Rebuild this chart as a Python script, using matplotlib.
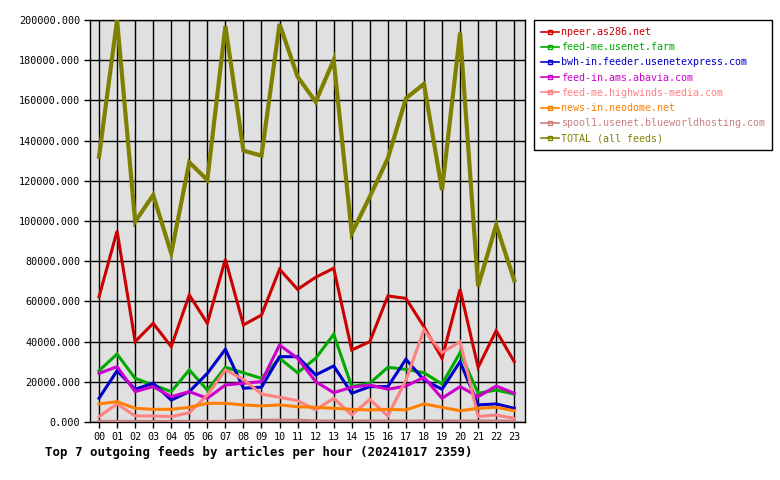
import matplotlib
matplotlib.use("Agg")
import matplotlib.pyplot as plt
from matplotlib.lines import Line2D

hours = ["%02d" % h for h in range(24)]

npeer = [62300, 95000, 40000, 49100, 37500, 63200, 49100, 81000, 48300, 53200,
         76000, 66000, 72000, 76500, 35800, 40000, 62700, 61500, 47400, 31700,
         66000, 27200, 45400, 30000]
usenet_farm = [25500, 33800, 21700, 18400, 15100, 25900, 15900, 27200, 24500, 21700,
               31700, 24500, 31700, 43600, 17600, 19300, 27200, 26200, 24500, 18900,
               34500, 14300, 15900, 13900]
usenetexpress = [11800, 25500, 16300, 19300, 10900, 15100, 24200, 36200, 16800, 17300,
                 32500, 32500, 23400, 27900, 14300, 17600, 17600, 31200, 20900, 16300,
                 30000, 8500, 9000, 6800]
abavia = [24200, 27500, 15100, 17600, 12600, 15100, 11800, 18400, 19300, 20100,
          38300, 31700, 20100, 14600, 17300, 18400, 16300, 17900, 22200, 11800,
          17600, 12600, 17900, 14300]
highwinds = [2700, 9000, 3000, 3000, 2700, 4600, 13400, 25900, 21200, 13900,
             12300, 10600, 6000, 11800, 3500, 11300, 3000, 20900, 45800, 34500,
             40000, 2700, 3500, 1800]
neodome = [9000, 10100, 6800, 6300, 6300, 7300, 9300, 9300, 8500, 8000,
           8500, 7600, 7300, 6800, 6300, 6000, 6300, 6000, 9000, 7300,
           5600, 6800, 7300, 5600]
blueworld = [300, 300, 300, 300, 300, 300, 300, 300, 900, 900,
             900, 900, 500, 500, 500, 500, 500, 500, 500, 500,
             500, 500, 500, 400]
total = [132000, 200000, 99700, 112900, 83900, 129200, 120400, 197000, 135000, 132500,
         198000, 171800, 159300, 180100, 93900, 112100, 131200, 161000, 168200, 115400,
         193700, 67500, 98000, 70500]

series = [
    ("npeer.as286.net", npeer, "#cc0000"),
    ("feed-me.usenet.farm", usenet_farm, "#00aa00"),
    ("bwh-in.feeder.usenetexpress.com", usenetexpress, "#0000cc"),
    ("feed-in.ams.abavia.com", abavia, "#cc00cc"),
    ("feed-me.highwinds-media.com", highwinds, "#ff8080"),
    ("news-in.neodome.net", neodome, "#ff8000"),
    ("spool1.usenet.blueworldhosting.com", blueworld, "#c88080"),
    ("TOTAL (all feeds)", total, "#808000"),
]

mono = "DejaVu Sans Mono"

fig = plt.figure(figsize=(7.8, 4.8), dpi=100)
ax = fig.add_axes([90 / 780, 58 / 480, 434.7 / 780, 402 / 480])
ax.set_facecolor("#e0e0e0")

x = list(range(len(hours)))
handles = []
for name, vals, color in series:
    lw = 3.0 if name.startswith("TOTAL") else 2.2
    ax.plot(x, vals, color=color, linewidth=lw, solid_joinstyle="miter", zorder=3)
    handles.append(Line2D([0], [0], color=color, linewidth=1.2, marker="s",
                          markersize=3, markerfacecolor="none",
                          markeredgecolor=color, label=name))

ax.set_xlim(-0.5, 23.58)
ax.set_ylim(0, 200000)
ax.set_xticks(x)
ax.set_xticklabels(hours, fontfamily=mono, fontsize=7.3)
yt = list(range(0, 200001, 20000))
ax.set_yticks(yt)
ax.set_yticklabels(["%.3f" % v for v in yt], fontfamily=mono, fontsize=7.3)
ax.tick_params(direction="out", length=4, width=1, color="black", pad=3)
ax.grid(True, color="black", linewidth=1, zorder=1)
ax.set_axisbelow(True)
for sp in ax.spines.values():
    sp.set_linewidth(1)
    sp.set_color("black")

leg = fig.legend(handles=handles, loc="upper left",
                 bbox_to_anchor=(534 / 780, 1 - 20 / 480),
                 prop={"family": mono, "size": 7.2},
                 fancybox=False, edgecolor="black", framealpha=1,
                 handlelength=1.8, handletextpad=0.2, borderpad=0.7,
                 labelspacing=0.52, borderaxespad=0, numpoints=1)
leg.get_frame().set_linewidth(1)
for txt, (_, _, color) in zip(leg.get_texts(), series):
    txt.set_color(color)

fig.text(45 / 780, 1 - 452 / 480,
         "Top 7 outgoing feeds by articles per hour (20241017 2359)",
         fontfamily=mono, fontweight="bold", fontsize=8.9, va="center", ha="left")

fig.savefig("out.png", dpi=100)
